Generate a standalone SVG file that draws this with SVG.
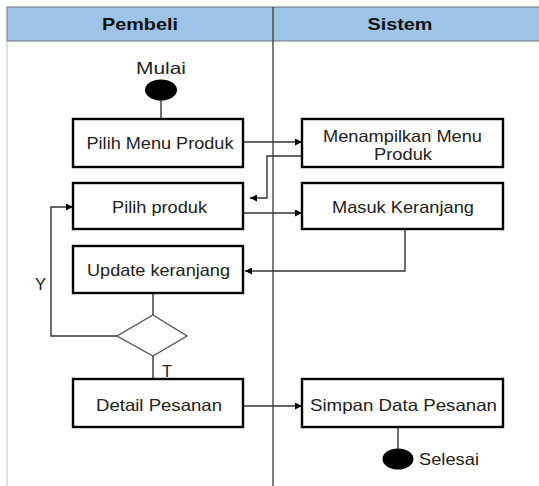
<svg xmlns="http://www.w3.org/2000/svg" width="539" height="486" viewBox="0 0 539 486">
  <style>
    .lbl { font-family: "Liberation Sans", Arial, sans-serif; font-size: 16.5px; fill: #222; text-anchor: middle; dominant-baseline: central; }
    .hdr { font-family: "Liberation Sans", Arial, sans-serif; font-size: 16.5px; font-weight: bold; fill: #111; text-anchor: middle; dominant-baseline: central; }
    .box { fill: #fff; stroke: #000; stroke-width: 2.4; }
    .conn { fill: none; stroke: #333; stroke-width: 1.4; }
  </style>
  <defs>
    <marker id="arrow" viewBox="0 0 10 10" refX="10" refY="5" markerWidth="7" markerHeight="7" markerUnits="userSpaceOnUse" orient="auto">
      <path d="M0,0 L10,5 L0,10 z" fill="#000"/>
    </marker>
  </defs>

  <!-- swimlane frame -->
  <g id="lanes">
    <rect x="0" y="0" width="539" height="486" fill="#fff"/>
    <rect x="7" y="7" width="540" height="34" fill="#9DC3E6" stroke="#777" stroke-width="1"/>
    <line x1="7" y1="41" x2="7" y2="486" stroke="#ccc" stroke-width="1.2"/>
    <line x1="273" y1="7" x2="273" y2="486" stroke="#444" stroke-width="1.4"/>
    <text class="hdr" x="140" y="24" textLength="76" lengthAdjust="spacingAndGlyphs">Pembeli</text>
    <text class="hdr" x="400" y="24" textLength="65" lengthAdjust="spacingAndGlyphs">Sistem</text>
  </g>

  <!-- connectors -->
  <g id="connectors">
    <line class="conn" x1="161" y1="100" x2="161" y2="119"/>
    <line class="conn" x1="243" y1="142" x2="302" y2="142" marker-end="url(#arrow)"/>
    <polyline class="conn" points="302,156 267,156 267,198 250,198" marker-end="url(#arrow)"/>
    <line class="conn" x1="243" y1="213" x2="302" y2="213" marker-end="url(#arrow)"/>
    <polyline class="conn" points="405,229 405,271 245,271" marker-end="url(#arrow)"/>
    <line class="conn" x1="153" y1="293" x2="153" y2="315"/>
    <polyline class="conn" points="117,336 51,336 51,207 73,207" stroke="#555" marker-end="url(#arrow)"/>
    <line class="conn" x1="153" y1="356" x2="153" y2="379"/>
    <line class="conn" x1="243" y1="406" x2="302" y2="406" marker-end="url(#arrow)"/>
    <line class="conn" x1="398" y1="427" x2="398" y2="449"/>
    <text class="lbl" x="40.5" y="284">Y</text>
    <text class="lbl" x="167" y="371">T</text>
  </g>

  <g id="start">
    <text class="lbl" x="161" y="68" textLength="50" lengthAdjust="spacingAndGlyphs">Mulai</text>
    <ellipse cx="161" cy="90" rx="16" ry="10.5" fill="#000"/>
  </g>

  <g id="pilih-menu-produk">
    <rect class="box" x="73" y="119" width="170" height="48"/>
    <text class="lbl" x="160" y="143" textLength="147" lengthAdjust="spacingAndGlyphs">Pilih Menu Produk</text>
  </g>

  <g id="menampilkan-menu-produk">
    <rect class="box" x="302" y="119" width="201" height="48"/>
    <text class="lbl" x="402.5" y="135.5" textLength="159" lengthAdjust="spacingAndGlyphs">Menampilkan Menu</text>
    <text class="lbl" x="403" y="154" textLength="58" lengthAdjust="spacingAndGlyphs">Produk</text>
  </g>

  <g id="pilih-produk">
    <rect class="box" x="73" y="183" width="170" height="46"/>
    <text class="lbl" x="159.5" y="207" textLength="95" lengthAdjust="spacingAndGlyphs">Pilih produk</text>
  </g>

  <g id="masuk-keranjang">
    <rect class="box" x="302" y="183" width="201" height="46"/>
    <text class="lbl" x="403" y="207" textLength="142" lengthAdjust="spacingAndGlyphs">Masuk Keranjang</text>
  </g>

  <g id="update-keranjang">
    <rect class="box" x="73" y="246" width="170" height="47"/>
    <text class="lbl" x="158.5" y="270" textLength="143" lengthAdjust="spacingAndGlyphs">Update keranjang</text>
  </g>

  <g id="decision">
    <polygon points="153,315 187,336 153,356 117,336" fill="#fff" stroke="#555" stroke-width="1.4"/>
  </g>

  <g id="detail-pesanan">
    <rect class="box" x="73" y="379" width="170" height="48"/>
    <text class="lbl" x="159" y="405" textLength="126" lengthAdjust="spacingAndGlyphs">Detail Pesanan</text>
  </g>

  <g id="simpan-data-pesanan">
    <rect class="box" x="302" y="379" width="201" height="48"/>
    <text class="lbl" x="403.5" y="405" textLength="187" lengthAdjust="spacingAndGlyphs">Simpan Data Pesanan</text>
  </g>

  <g id="end">
    <ellipse cx="398" cy="459" rx="15.5" ry="10.5" fill="#000"/>
    <text class="lbl" x="419" y="459" style="text-anchor:start" textLength="60" lengthAdjust="spacingAndGlyphs">Selesai</text>
  </g>
</svg>
